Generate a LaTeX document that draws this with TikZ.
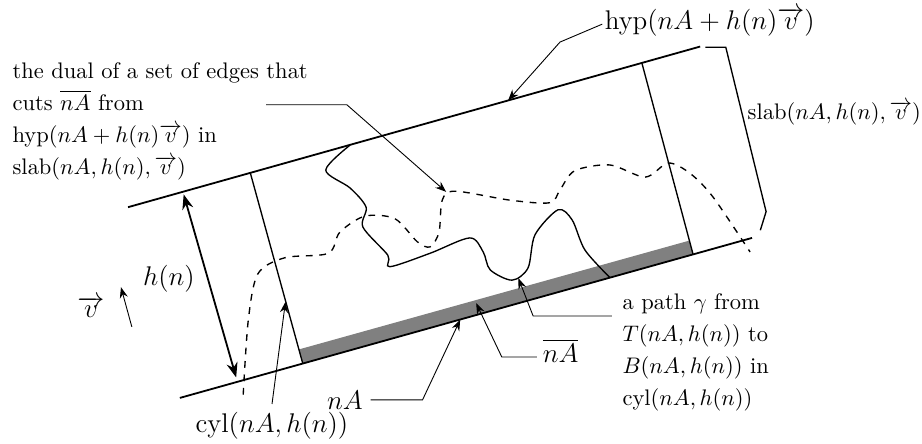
\documentclass[tikz,border=0pt]{standalone}
\usepackage{amsmath, amssymb}
\usepackage{tikz}
\usetikzlibrary{arrows.meta, positioning, calc}

\newcommand{\vecv}{\overrightarrow{v}}

\begin{document}
\begin{tikzpicture}[>=Stealth,
  bound/.style={thick},
  wall/.style={semithick},
  leader/.style={->, thin},
  lbl/.style={font=\large},
  note/.style={align=left, inner sep=0pt, font=\fontsize{10}{14.2}\selectfont}]
  \useasboundingbox (0,0) rectangle (14.406,6.9375);
  % Slab and cylinder corners
  \coordinate (hypL) at (2.00,3.70);
  \coordinate (hypR) at (10.94,6.21);
  \coordinate (baseL) at (2.81,0.72);
  \coordinate (baseR) at (11.75,3.22);
  \coordinate (cylTL) at (3.91,4.24);
  \coordinate (cylBL) at (4.73,1.26);
  \coordinate (cylTR) at (10.03,5.95);
  \coordinate (cylBR) at (10.83,2.96);
  % Top face of the cylinder
  \fill[gray] (cylBL) -- (cylBR) -- ($(cylBR)!0.073!(cylTR)$) -- ($(cylBL)!0.073!(cylTL)$) -- cycle;
  % Slab boundaries
  \draw[bound] (hypL) -- (hypR);
  \draw[bound] (baseL) -- (baseR);
  % Cylinder walls
  \draw[wall] (cylTL) -- (cylBL);
  \draw[wall] (cylTR) -- (cylBR);
  % Slab brace
  \draw[wall] (11.02,6.20) -- (11.34,6.20) -- (11.97,3.63) -- (11.88,3.34);
  % Path gamma
  \draw[wall] plot[smooth] coordinates {(5.47,4.67) (5.09,4.28) (5.47,4.00) (5.72,3.70)
    (5.67,3.39) (6.06,2.95) (6.09,2.77) (6.72,2.98) (7.34,3.22) (7.55,3.00) (7.66,2.72)
    (8.00,2.56) (8.25,2.75) (8.36,3.27) (8.72,3.66) (8.94,3.50) (9.14,3.03) (9.53,2.60)};
  % Dual cut
  \draw[wall, dashed] plot[smooth] coordinates {(3.80,0.77) (3.88,1.94) (4.03,2.66)
    (4.45,2.91) (5.13,2.98) (5.31,3.31) (5.70,3.56) (6.17,3.52) (6.52,3.16) (6.72,3.08)
    (6.86,3.31) (6.91,3.81) (7.11,3.95) (7.97,3.81) (8.59,3.77) (8.75,3.97) (8.98,4.27)
    (9.53,4.36) (10.08,4.17) (10.44,4.39) (10.78,4.23) (11.14,3.86) (11.72,3.00)};
  % Height and direction
  \coordinate (htop) at (2.87,3.90);
  \coordinate (hbot) at (3.69,1.04);
  \draw[thick, <->] (htop) -- (hbot);
  \node[lbl] (hn) at (2.64,2.58) {$h(n)$};
  \node[lbl] (v) at (1.42,2.14) {$\vecv$};
  \coordinate (vtail) at (2.06,1.83);
  \coordinate (vhead) at (1.89,2.45);
  \draw[->] (vtail) -- (vhead);
  % Labels
  \node[lbl] (hyp) at (11.09,6.59) {$\mathrm{hyp}(nA+h(n)\vecv)$};
  \node[anchor=west, inner sep=1pt] (slab) at (11.64,5.17) {$\mathrm{slab}(nA,h(n),\vecv)$};
  \node[note, anchor=north west] (dual) at (0.19,5.97) {the dual of a set of edges that\\
    cuts $\overline{nA}$ from\\ $\mathrm{hyp}(nA+h(n)\vecv)$ in\\ $\mathrm{slab}(nA,h(n),\vecv)$};
  \node[note, anchor=north west] (gamma) at (9.72,2.36) {a path $\gamma$ from\\
    $T(nA,h(n))$ to\\ $B(nA,h(n))$ in\\ $\mathrm{cyl}(nA,h(n))$};
  \node[lbl, anchor=base west, inner sep=1pt] (nAbar) at (8.44,1.27) {$\overline{nA}$};
  \node[lbl] (nA) at (5.39,0.69) {$nA$};
  \node[lbl] (cyl) at (4.25,0.29) {$\mathrm{cyl}(nA,h(n))$};
  % Leaders
  \coordinate (hyptail) at (9.41,6.56);
  \coordinate (hyptip) at (7.94,5.37);
  \draw[leader] (hyptail) -- (8.75,6.28) -- (hyptip);
  \coordinate (dualtail) at (4.16,5.30);
  \coordinate (dualtip) at (6.97,3.94);
  \draw[leader] (dualtail) -- (5.42,5.30) -- (dualtip);
  \coordinate (gtail) at (9.56,2.00);
  \coordinate (gtip) at (8.10,2.59);
  \draw[leader] (gtail) -- (8.33,2.00) -- (gtip);
  \coordinate (bartail) at (8.39,1.36);
  \coordinate (bartip) at (7.44,2.20);
  \draw[leader] (bartail) -- (7.84,1.36) -- (bartip);
  \coordinate (natip) at (7.19,1.94);
  \draw[leader] (nA.east) -- ++(0.81,0) -- (natip);
  \coordinate (cyltip) at (4.46,2.22);
  \draw[leader] (cyl.north) -- (cyltip);
\end{tikzpicture}
\end{document}
